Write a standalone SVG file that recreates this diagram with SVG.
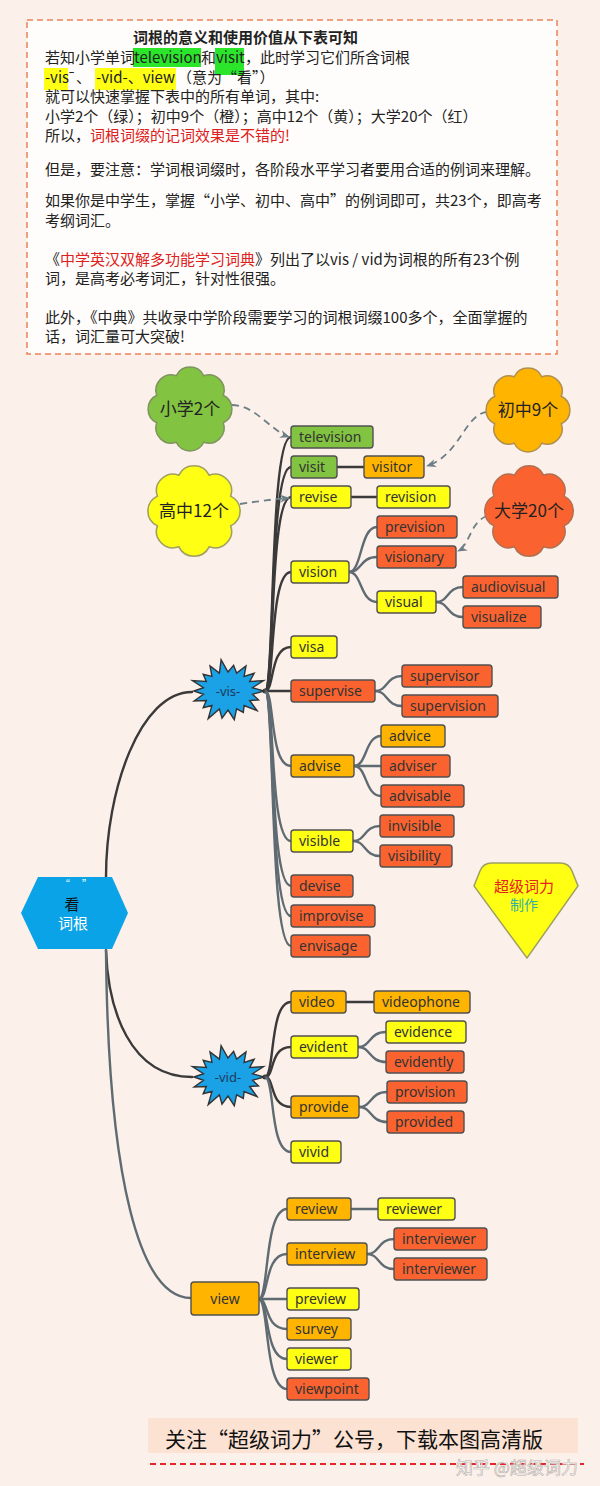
<svg xmlns="http://www.w3.org/2000/svg" xmlns:xlink="http://www.w3.org/1999/xlink" width="600" height="1486" viewBox="0 0 600 1486">
<style>
.t{font-family:'Noto Sans CJK SC',sans-serif;font-size:15px;fill:#222}
.red{fill:#DD2020}
.nd{stroke:#505050;stroke-width:1.4}
.g{fill:#82C341}.y{fill:#FFFF14}.o{fill:#FFB400}.r{fill:#FA6330}
.lb{font-family:'Noto Sans','Noto Sans CJK SC',sans-serif;font-size:14px;fill:#333}
.dk{fill:none;stroke:#3a3a3a;stroke-width:2.4;stroke-linecap:round}
.gr{fill:none;stroke:#5f6b72;stroke-width:2.4;stroke-linecap:round}
.ds{fill:none;stroke:#6d7f86;stroke-width:1.8;stroke-dasharray:7,5}
.cl{font-family:'Noto Sans CJK SC',sans-serif;font-size:17px;fill:#222;text-anchor:middle}
.st{fill:#1AA1E6;stroke:#333;stroke-width:1.4}
.sl{font-family:'Noto Sans',sans-serif;font-size:13px;fill:#1d3a5a;text-anchor:middle}
</style>
<defs>
<marker id="ah" viewBox="0 0 10 10" refX="9" refY="5" markerWidth="10" markerHeight="10" orient="auto" markerUnits="userSpaceOnUse"><path d="M0,1 L10,5 L0,9 L3,5 z" fill="#6d7f86"/></marker>
<path id="cloud" d="M36.96,15.31 A17,17 0 0 1 15.31,36.96 A17,17 0 0 1 -15.31,36.96 A17,17 0 0 1 -36.96,15.31 A17,17 0 0 1 -36.96,-15.31 A17,17 0 0 1 -15.31,-36.96 A17,17 0 0 1 15.31,-36.96 A17,17 0 0 1 36.96,-15.31 A17,17 0 0 1 36.96,15.31 Z"/>
<path id="star" d="M36,0 L24.6,3.3 L30.5,8.9 L21.7,9.5 L29,19.6 L16.1,14.6 L15.3,21.3 L8.6,17.9 L6.3,28.6 L0,19 L-6,27.1 L-8.6,17.9 L-19.8,27.6 L-16.1,14.6 L-24.8,16.8 L-21.7,9.5 L-33.8,9.9 L-24.6,3.3 L-34.2,0 L-24.6,-3.3 L-35.5,-10.4 L-21.7,-9.5 L-24.8,-16.8 L-16.1,-14.6 L-18,-25.1 L-8.6,-17.9 L-6.9,-31.4 L0,-19 L5.6,-25.7 L8.6,-17.9 L18,-25.1 L16.1,-14.6 L26.2,-17.7 L21.7,-9.5 L35.5,-10.4 L24.6,-3.3 Z"/>
</defs>
<rect x="0" y="0" width="600" height="1486" fill="#FCF0EA"/>

<g id="intro">
<rect x="27" y="20" width="530" height="334" fill="#FFFDFB" stroke="#E9825A" stroke-width="1.5" stroke-dasharray="6,4"/>
<rect x="133" y="48" width="68" height="19" fill="#2BE52B"/>
<rect x="215" y="48" width="29" height="27" fill="#2BE52B"/>
<rect x="44" y="68" width="24" height="22" fill="#FFFF14"/>
<rect x="95" y="68" width="81" height="22" fill="#FFFF14"/>
<text class="t" x="133" y="43" font-weight="bold" font-size="14.3">词根的意义和使用价值从下表可知</text>
<text class="t" y="63"><tspan x="45">若知小学单词</tspan><tspan x="134">television</tspan><tspan x="201">和</tspan><tspan x="216">visit</tspan><tspan x="245">，此时学习它们所含词根</tspan></text>
<text class="t" y="83"><tspan x="45">-vis</tspan><tspan x="67">¯、</tspan><tspan x="96">-vid-、view</tspan><tspan x="177">（意为“看”）</tspan></text>
<text class="t" x="45" y="102">就可以快速掌握下表中的所有单词，其中:</text>
<text class="t" x="45" y="122">小学2个（绿）；初中9个（橙）；高中12个（黄）；大学20个（红）</text>
<text class="t" x="45" y="141">所以，<tspan class="red">词根词缀的记词效果是不错的!</tspan></text>
<text class="t" x="45" y="175">但是，要注意：学词根词缀时，各阶段水平学习者要用合适的例词来理解。</text>
<text class="t" x="45" y="206">如果你是中学生，掌握“小学、初中、高中”的例词即可，共23个，即高考</text>
<text class="t" x="45" y="226">考纲词汇。</text>
<text class="t" x="45" y="265">《<tspan class="red">中学英汉双解多功能学习词典</tspan>》列出了以vis / vid为词根的所有23个例</text>
<text class="t" x="45" y="284">词，是高考必考词汇，针对性很强。</text>
<text class="t" x="45" y="323">此外，《中典》共收录中学阶段需要学习的词根词缀100多个，全面掌握的</text>
<text class="t" x="45" y="342">话，词汇量可大突破!</text>
</g>

<g id="connectors">
<path class="dk" d="M106,877 C106,790 140,692 192,692"/>
<path class="dk" d="M106,950 C108,1010 130,1077 192,1077"/>
<path class="gr" d="M106,950 C108,1180 140,1298 191,1298"/>
<circle cx="265" cy="691" r="2.5" fill="#3a3a3a"/>
<path class="dk" d="M265,691 C275,691 269,437 291,437"/>
<path class="dk" d="M265,691 C275,691 269,467 291,467"/>
<path class="dk" d="M265,691 C275,691 269,497 291,497"/>
<path class="dk" d="M265,691 C275,691 269,572 291,572"/>
<path class="dk" d="M265,691 C275,691 269,647 291,647"/>
<path class="dk" d="M265,691 L291,691"/>
<path class="gr" d="M265,691 C275,691 269,766 291,766"/>
<path class="gr" d="M265,691 C275,691 269,841 291,841"/>
<path class="gr" d="M265,691 C275,691 269,886 291,886"/>
<path class="gr" d="M265,691 C275,691 269,916 291,916"/>
<path class="gr" d="M265,691 C275,691 269,946 291,946"/>
<path class="dk" d="M337,467 L364,467"/>
<path class="dk" d="M351,497 L377,497"/>
<path class="gr" d="M349,572 C362,572 360,527 377,527"/>
<path class="gr" d="M349,572 C362,572 360,557 377,557"/>
<path class="gr" d="M349,572 C362,572 360,602 377,602"/>
<path class="gr" d="M436,602 C449,602 447,587 463,587"/>
<path class="gr" d="M436,602 C449,602 447,617 463,617"/>
<path class="gr" d="M375,691 C388,691 386,676 402,676"/>
<path class="gr" d="M375,691 C388,691 386,706 402,706"/>
<path class="gr" d="M354,766 C367,766 365,736 381,736"/>
<path class="gr" d="M354,766 L381,766"/>
<path class="gr" d="M354,766 C367,766 365,796 381,796"/>
<path class="gr" d="M353,841 C366,841 364,826 380,826"/>
<path class="gr" d="M353,841 C366,841 364,856 380,856"/>
<circle cx="265" cy="1077" r="2.5" fill="#3a3a3a"/>
<path class="dk" d="M265,1077 C275,1077 269,1002 291,1002"/>
<path class="dk" d="M265,1077 C275,1077 269,1047 291,1047"/>
<path class="dk" d="M265,1077 C275,1077 269,1107 291,1107"/>
<path class="gr" d="M265,1077 C275,1077 269,1152 291,1152"/>
<path class="dk" d="M346,1002 L374,1002"/>
<path class="gr" d="M358,1047 C371,1047 369,1032 386,1032"/>
<path class="gr" d="M358,1047 C371,1047 369,1062 386,1062"/>
<path class="gr" d="M359,1107 C372,1107 370,1092 387,1092"/>
<path class="gr" d="M359,1107 C372,1107 370,1122 387,1122"/>
<path class="gr" d="M259,1299 C269,1299 264,1209 287,1209"/>
<path class="gr" d="M259,1299 C269,1299 264,1254 287,1254"/>
<path class="gr" d="M259,1299 L287,1299"/>
<path class="gr" d="M259,1299 C269,1299 264,1329 287,1329"/>
<path class="gr" d="M259,1299 C269,1299 264,1359 287,1359"/>
<path class="gr" d="M259,1299 C269,1299 264,1389 287,1389"/>
<path class="gr" d="M351,1209 L378,1209"/>
<path class="gr" d="M367,1254 C380,1254 378,1239 394,1239"/>
<path class="gr" d="M367,1254 C380,1254 378,1269 394,1269"/>
<path class="ds" d="M232,405 C255,405 270,430 289,437" marker-end="url(#ah)"/>
<path class="ds" d="M240,504 C260,501 275,499 289,498" marker-end="url(#ah)"/>
<path class="ds" d="M487,412 C465,414 460,455 427,466" marker-end="url(#ah)"/>
<path class="ds" d="M487,516 C470,522 470,545 458,551" marker-end="url(#ah)"/>
</g>

<g id="cloud-xiaoxue"><use href="#cloud" transform="translate(190,409) scale(0.9)" fill="#82C341" stroke="#7f9460" stroke-width="1.7"/><text class="cl" x="190" y="415">小学2个</text></g>
<g id="cloud-gaozhong"><use href="#cloud" transform="translate(194,511) scale(0.99,0.97)" fill="#FFFF14" stroke="#a0a060" stroke-width="1.6"/><text class="cl" x="194" y="517">高中12个</text></g>
<g id="cloud-chuzhong"><use href="#cloud" transform="translate(528,410) scale(0.9)" fill="#FFB400" stroke="#b09050" stroke-width="1.7"/><text class="cl" x="528" y="416">初中9个</text></g>
<g id="cloud-daxue"><use href="#cloud" transform="translate(529,511) scale(0.95,0.97)" fill="#FA6330" stroke="#b07050" stroke-width="1.6"/><text class="cl" x="529" y="517">大学20个</text></g>

<g id="root">
<polygon points="21,913 38,877 112,877 128,913 112,949 38,949" fill="#0AA3E8"/>
<text font-family="'Noto Sans CJK SC',sans-serif" font-size="10" fill="#fff"><tspan x="60" y="888">“</tspan><tspan x="82" y="888">”</tspan></text>
<text font-family="'Noto Sans CJK SC',sans-serif" font-size="15" fill="#111" x="72" y="910" text-anchor="middle">看</text>
<text font-family="'Noto Sans CJK SC',sans-serif" font-size="15" fill="#fff" x="73" y="929" text-anchor="middle">词根</text>
</g>

<g id="vis"><use href="#star" class="st" transform="translate(228,691)"/><text class="sl" x="228" y="696">-vis-</text></g>
<g id="vid"><use href="#star" class="st" transform="translate(228,1077)"/><text class="sl" x="228" y="1082">-vid-</text></g>

<g id="n-television"><rect class="nd g" x="291" y="426" width="82" height="22" rx="3"/><text class="lb" x="299" y="442">television</text></g>
<g id="n-visit"><rect class="nd g" x="291" y="456" width="46" height="22" rx="3"/><text class="lb" x="299" y="472">visit</text></g>
<g id="n-visitor"><rect class="nd o" x="364" y="456" width="60" height="22" rx="3"/><text class="lb" x="372" y="472">visitor</text></g>
<g id="n-revise"><rect class="nd y" x="291" y="486" width="60" height="22" rx="3"/><text class="lb" x="299" y="502">revise</text></g>
<g id="n-revision"><rect class="nd y" x="377" y="486" width="73" height="22" rx="3"/><text class="lb" x="385" y="502">revision</text></g>
<g id="n-prevision"><rect class="nd r" x="377" y="516" width="80" height="22" rx="3"/><text class="lb" x="385" y="532">prevision</text></g>
<g id="n-visionary"><rect class="nd r" x="377" y="546" width="79" height="22" rx="3"/><text class="lb" x="385" y="562">visionary</text></g>
<g id="n-vision"><rect class="nd y" x="291" y="561" width="58" height="22" rx="3"/><text class="lb" x="299" y="577">vision</text></g>
<g id="n-visual"><rect class="nd y" x="377" y="591" width="59" height="22" rx="3"/><text class="lb" x="385" y="607">visual</text></g>
<g id="n-audiovisual"><rect class="nd r" x="463" y="576" width="95" height="22" rx="3"/><text class="lb" x="471" y="592">audiovisual</text></g>
<g id="n-visualize"><rect class="nd r" x="463" y="606" width="78" height="22" rx="3"/><text class="lb" x="471" y="622">visualize</text></g>
<g id="n-visa"><rect class="nd y" x="291" y="636" width="46" height="22" rx="3"/><text class="lb" x="299" y="652">visa</text></g>
<g id="n-supervise"><rect class="nd r" x="291" y="680" width="84" height="22" rx="3"/><text class="lb" x="299" y="696">supervise</text></g>
<g id="n-supervisor"><rect class="nd r" x="402" y="665" width="90" height="22" rx="3"/><text class="lb" x="410" y="681">supervisor</text></g>
<g id="n-supervision"><rect class="nd r" x="402" y="695" width="96" height="22" rx="3"/><text class="lb" x="410" y="711">supervision</text></g>
<g id="n-advice"><rect class="nd o" x="381" y="725" width="64" height="22" rx="3"/><text class="lb" x="389" y="741">advice</text></g>
<g id="n-advise"><rect class="nd o" x="291" y="755" width="63" height="22" rx="3"/><text class="lb" x="299" y="771">advise</text></g>
<g id="n-adviser"><rect class="nd r" x="381" y="755" width="69" height="22" rx="3"/><text class="lb" x="389" y="771">adviser</text></g>
<g id="n-advisable"><rect class="nd r" x="381" y="785" width="83" height="22" rx="3"/><text class="lb" x="389" y="801">advisable</text></g>
<g id="n-invisible"><rect class="nd r" x="380" y="815" width="74" height="22" rx="3"/><text class="lb" x="388" y="831">invisible</text></g>
<g id="n-visible"><rect class="nd y" x="291" y="830" width="62" height="22" rx="3"/><text class="lb" x="299" y="846">visible</text></g>
<g id="n-visibility"><rect class="nd r" x="380" y="845" width="72" height="22" rx="3"/><text class="lb" x="388" y="861">visibility</text></g>
<g id="n-devise"><rect class="nd r" x="291" y="875" width="62" height="22" rx="3"/><text class="lb" x="299" y="891">devise</text></g>
<g id="n-improvise"><rect class="nd r" x="291" y="905" width="84" height="22" rx="3"/><text class="lb" x="299" y="921">improvise</text></g>
<g id="n-envisage"><rect class="nd r" x="291" y="935" width="79" height="22" rx="3"/><text class="lb" x="299" y="951">envisage</text></g>

<g id="n-video"><rect class="nd o" x="291" y="991" width="55" height="22" rx="3"/><text class="lb" x="299" y="1007">video</text></g>
<g id="n-videophone"><rect class="nd o" x="374" y="991" width="96" height="22" rx="3"/><text class="lb" x="382" y="1007">videophone</text></g>
<g id="n-evidence"><rect class="nd y" x="386" y="1021" width="80" height="22" rx="3"/><text class="lb" x="394" y="1037">evidence</text></g>
<g id="n-evident"><rect class="nd y" x="291" y="1036" width="67" height="22" rx="3"/><text class="lb" x="299" y="1052">evident</text></g>
<g id="n-evidently"><rect class="nd r" x="386" y="1051" width="78" height="22" rx="3"/><text class="lb" x="394" y="1067">evidently</text></g>
<g id="n-provision"><rect class="nd r" x="387" y="1081" width="80" height="22" rx="3"/><text class="lb" x="395" y="1097">provision</text></g>
<g id="n-provide"><rect class="nd o" x="291" y="1096" width="68" height="22" rx="3"/><text class="lb" x="299" y="1112">provide</text></g>
<g id="n-provided"><rect class="nd r" x="387" y="1111" width="77" height="22" rx="3"/><text class="lb" x="395" y="1127">provided</text></g>
<g id="n-vivid"><rect class="nd y" x="291" y="1141" width="50" height="22" rx="3"/><text class="lb" x="299" y="1157">vivid</text></g>

<g id="n-view"><rect class="nd o" x="191" y="1282" width="68" height="33" rx="3"/><text class="lb" x="225" y="1304" text-anchor="middle">view</text></g>
<g id="n-review"><rect class="nd o" x="287" y="1198" width="64" height="22" rx="3"/><text class="lb" x="295" y="1214">review</text></g>
<g id="n-reviewer"><rect class="nd y" x="378" y="1198" width="77" height="22" rx="3"/><text class="lb" x="386" y="1214">reviewer</text></g>
<g id="n-interviewer1"><rect class="nd r" x="394" y="1228" width="93" height="22" rx="3"/><text class="lb" x="402" y="1244">interviewer</text></g>
<g id="n-interview"><rect class="nd o" x="287" y="1243" width="80" height="22" rx="3"/><text class="lb" x="295" y="1259">interview</text></g>
<g id="n-interviewer2"><rect class="nd r" x="394" y="1258" width="93" height="22" rx="3"/><text class="lb" x="402" y="1274">interviewer</text></g>
<g id="n-preview"><rect class="nd y" x="287" y="1288" width="72" height="22" rx="3"/><text class="lb" x="295" y="1304">preview</text></g>
<g id="n-survey"><rect class="nd o" x="287" y="1318" width="64" height="22" rx="3"/><text class="lb" x="295" y="1334">survey</text></g>
<g id="n-viewer"><rect class="nd y" x="287" y="1348" width="64" height="22" rx="3"/><text class="lb" x="295" y="1364">viewer</text></g>
<g id="n-viewpoint"><rect class="nd r" x="287" y="1378" width="82" height="22" rx="3"/><text class="lb" x="295" y="1394">viewpoint</text></g>

<g id="badge">
<path d="M492,863 L560,863 Q569,863 572,871 L578,886 L527,958 L474,886 L480,871 Q483,863 492,863 Z" fill="#FFFF14" stroke="#9fa060" stroke-width="1.5"/>
<text font-family="'Noto Sans CJK SC',sans-serif" font-size="15" fill="#E8201E" x="524" y="892" text-anchor="middle">超级词力</text>
<text font-family="'Noto Sans CJK SC',sans-serif" font-size="14" fill="#35B0A0" x="524" y="910" text-anchor="middle">制作</text>
</g>

<g id="footer">
<rect x="148" y="1418" width="430" height="35" fill="#FBE2D2"/>
<text font-family="'Noto Sans CJK SC',sans-serif" font-size="21" fill="#111" x="165" y="1447">关注“超级词力”公号，下载本图高清版</text>
<path d="M150,1464 L584,1464" stroke="#E3262B" stroke-width="2" stroke-dasharray="6,4"/>
<text font-family="'Noto Sans CJK SC',sans-serif" font-size="17" fill="#ffffff" fill-opacity="0.9" stroke="#b8b0aa" stroke-width="0.6" x="456" y="1474">知乎 @超级词力</text>
</g>
</svg>
